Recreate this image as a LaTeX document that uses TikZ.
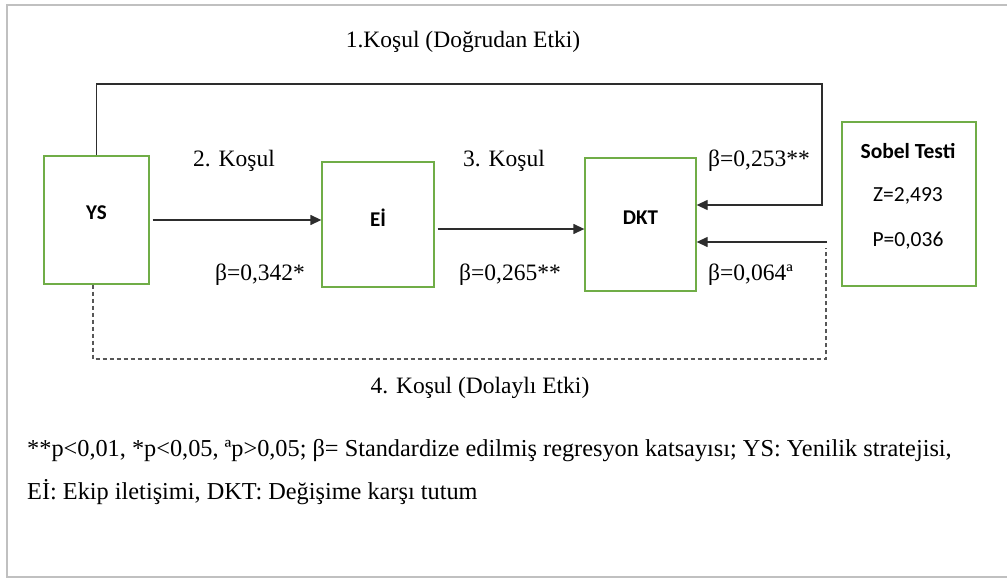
\documentclass[tikz,border=0pt]{standalone}
\usepackage{fontspec}
\setmainfont{Liberation Serif}
\newfontfamily\calibri{Carlito}
\usetikzlibrary{arrows.meta,positioning}
\definecolor{kyesil}{RGB}{112,173,71}
\definecolor{koyu}{RGB}{45,45,45}
\definecolor{cerceve}{RGB}{192,192,192}

\begin{document}
\begin{tikzpicture}[x=1pt,y=-1pt,
  kutu/.style={draw=kyesil, line width=1.3pt, font=\calibri\fontsize{21}{25}\selectfont\bfseries, text depth=14pt},
  ok/.style={draw=koyu, line width=1.3pt, -{Triangle[length=11pt,width=10pt]}},
  etiket/.style={font=\fontsize{23.5}{28}\selectfont, inner sep=0pt},
  notyazi/.style={font=\fontsize{24.3}{28}\selectfont, inner sep=0pt, anchor=west},
  sobelyazi/.style={font=\calibri\fontsize{21.5}{25}\selectfont, inner sep=0pt}]
\useasboundingbox (0,0) rectangle (1007,578);
% Frame
\draw[cerceve, line width=2pt] (1012,5) -| (7,577) -- (1012,577);
% Boxes
\node[kutu, minimum width=105pt, minimum height=128pt] (ys) at (96.5,220) {YS};
\node[kutu, minimum width=112pt, minimum height=125pt] (ei) at (378,224.5) {Eİ};
\node[kutu, minimum width=111pt, minimum height=133pt] (dkt) at (640.5,224.5) {DKT};
\node[draw=kyesil, line width=1.3pt, minimum width=134pt, minimum height=164pt] (sobel) at (909,204) {};
\node[sobelyazi, font=\calibri\fontsize{21.5}{25}\selectfont\bfseries] (sobelbaslik) at (908,151) {Sobel Testi};
\node[sobelyazi] (sobelz) at (908,196) {Z=2,493};
\node[sobelyazi] (sobelp) at (908,241) {P=0,036};
% Paths
\coordinate (kose1) at (822,84);
\coordinate (kose2) at (822,205);
\coordinate (sobelok) at (827,242);
\coordinate (alt) at (826,359);
\coordinate (ust) at (826,248);
\draw[ok, shorten <=3pt] (ys.east) -- (ys.east -| ei.west);
\draw[ok, shorten <=3pt] ([yshift=-4.5pt]ei.east) -- ([yshift=-4.5pt]ei.east -| dkt.west);
\draw[ok] (ys.north) |- (kose1) -- (kose2) -- (kose2 -| dkt.east);
\draw[ok] (sobelok) -- (sobelok -| dkt.east);
\draw[koyu!80, line width=1.2pt, dash pattern=on 4pt off 3pt] ([xshift=-3.5pt]ys.south) |- (alt) -- (ust);
% Labels
\node[etiket] (kosul1) at (463,42) {1.Koşul (Doğrudan Etki)};
\node[etiket] (kosul2) at (234,161) {2. Koşul};
\node[etiket] (kosul3) at (504,161) {3. Koşul};
\node[etiket] (kosul4) at (480,388) {4. Koşul (Dolaylı Etki)};
\node[etiket] (b1) at (260,275) {β=0,342*};
\node[etiket] (b2) at (510,275) {β=0,265**};
\node[etiket, anchor=west] (b3) at (708,161) {β=0,253**};
\node[etiket, anchor=west] (b4) at (708,275) {β=0,064ª};
% Note
\node[notyazi] (not1) at (27,451) {**p<0,01, *p<0,05, ªp>0,05; β= Standardize edilmiş regresyon katsayısı; YS: Yenilik stratejisi,};
\node[notyazi] (not2) at (27,492) {Eİ: Ekip iletişimi, DKT: Değişime karşı tutum};
\end{tikzpicture}
\end{document}
